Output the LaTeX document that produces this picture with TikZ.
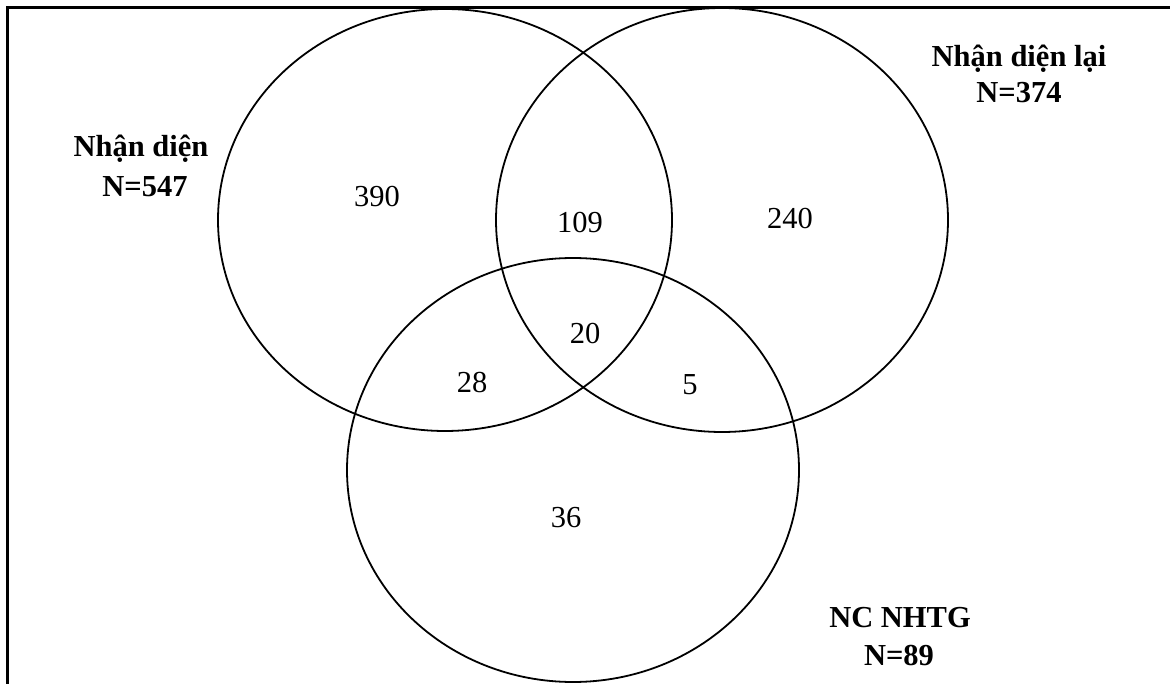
\documentclass[tikz,border=0pt]{standalone}
\usepackage{fontspec}
\setmainfont{Liberation Serif}
\begin{document}
\begin{tikzpicture}[x=1pt,y=-1pt,
  vennline/.style={line width=1.8pt},
  frameline/.style={line width=2.6pt},
  num/.style={anchor=base, inner sep=0pt, font=\fontsize{30.5}{36}\selectfont},
  lab/.style={anchor=base, inner sep=0pt, font=\fontsize{30.5}{36}\selectfont\bfseries}]
\useasboundingbox (0,0) rectangle (1170,684);
% frame (top and left only)
\draw[frameline] (7.3,684) -- (7.3,7.3) -- (1170,7.3);
% ellipses
\draw[vennline] (445,220) ellipse [x radius=227, y radius=211];
\draw[vennline] (722,220) ellipse [x radius=226, y radius=212];
\draw[vennline] (573,470) ellipse [x radius=226, y radius=212];
% set labels
\node[lab] (l1a) at (141,157) {Nhận diện};
\node[lab] (l1b) at (145,197) {N=547};
\node[lab] (l2a) at (1019,67) {Nhận diện lại};
\node[lab] (l2b) at (1019,103) {N=374};
\node[lab] (l3a) at (900,627) {NC NHTG};
\node[lab] (l3b) at (899,665) {N=89};
% region counts
\node[num] (n390) at (377,207) {390};
\node[num] (n109) at (580,233) {109};
\node[num] (n240) at (790,229) {240};
\node[num] (n20) at (585,344) {20};
\node[num] (n28) at (472,392) {28};
\node[num] (n5) at (690,395) {5};
\node[num] (n36) at (566,527) {36};
\end{tikzpicture}
\end{document}
